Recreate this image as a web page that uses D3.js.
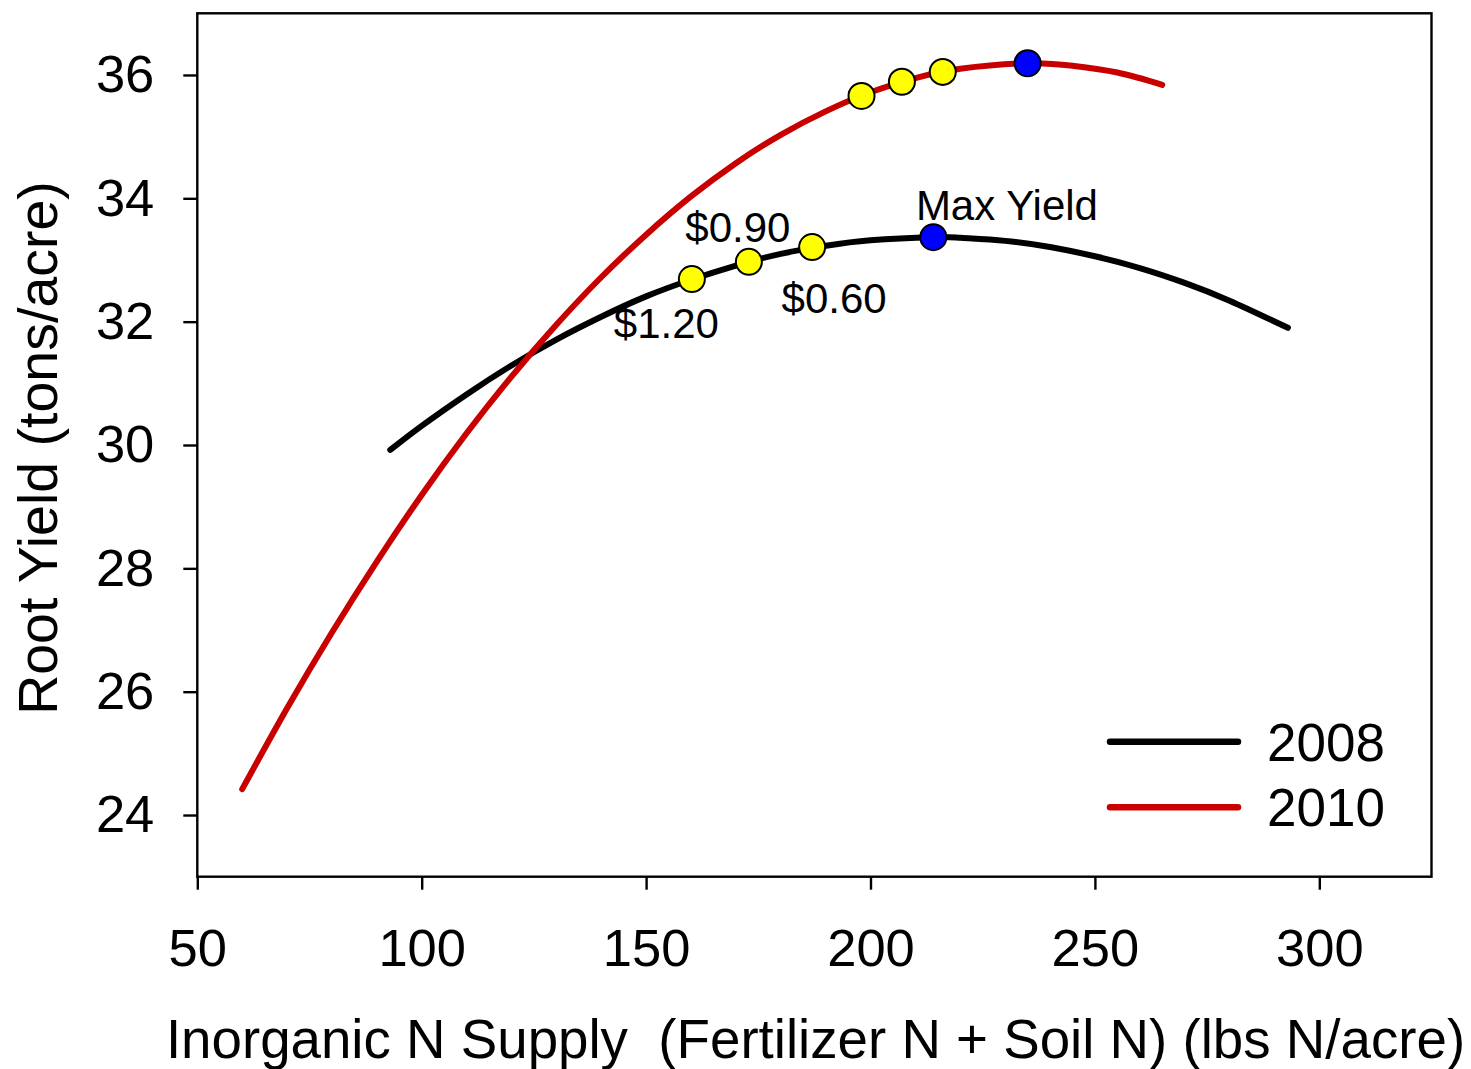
<!DOCTYPE html>
<html>
<head>
<meta charset="utf-8">
<script src="https://cdn.jsdelivr.net/npm/d3@7/dist/d3.min.js"></script>
<style>
  html, body { margin: 0; padding: 0; background: #ffffff; }
  svg { display: block; }
  text { font-family: "Liberation Sans", Arial, Helvetica, sans-serif; fill: #000; }
</style>
</head>
<body>
<svg id="chart" width="1471" height="1069"></svg>
<script>
// Fitted yield response curves (N supply in lbs N/acre, yield in tons/acre)
const years = ["2008", "2010"];
const nSupply2008 = [93, 100, 110, 120, 130, 140, 150, 160, 170, 180, 190, 200, 214, 220, 230, 240, 250, 260, 270, 280, 293];
const yield2008   = [29.92, 30.31, 30.82, 31.29, 31.71, 32.08, 32.41, 32.68, 32.91, 33.10, 33.23, 33.32, 33.37, 33.36, 33.31, 33.21, 33.06, 32.87, 32.63, 32.34, 31.90];
const nSupply2010 = [60, 70, 80, 90, 100, 110, 120, 130, 140, 150, 160, 170, 180, 190, 200, 210, 220, 235, 245, 255, 265];
const yield2010   = [24.42, 25.73, 26.96, 28.11, 29.19, 30.19, 31.11, 31.95, 32.72, 33.41, 34.03, 34.57, 35.03, 35.41, 35.72, 35.95, 36.10, 36.19, 36.15, 36.04, 35.84];

// Economic optimum rates (yellow) at N price ratios, and the maximum-yield rate (blue)
const optLabels   = ["$1.20", "$0.90", "$0.60"];
const optN2008    = [160.2, 172.9, 187.0];
const optY2008    = [32.69, 32.97, 33.21];
const optN2010    = [198.0, 207.0, 216.1];
const optY2010    = [35.66, 35.89, 36.05];
const maxLabel    = "Max Yield";
const maxN        = [214.0, 235.0];
const maxY        = [33.37, 36.19];

// Axis ticks and titles
const xTicks = [50, 100, 150, 200, 250, 300];
const yTicks = [24, 26, 28, 30, 32, 34, 36];
const xTitle = "Inorganic N Supply  (Fertilizer N + Soil N) (lbs N/acre)";
const yTitle = "Root Yield (tons/acre)";

const colors = { "2008": "#000000", "2010": "#c80000" };

const svg = d3.select("#chart");
const margin = { left: 197.3, top: 13.3, right: 1471 - 1431.5, bottom: 1069 - 876.7 };
const W = 1471 - margin.left - margin.right;
const H = 1069 - margin.top - margin.bottom;

const x = d3.scaleLinear().domain([50, 325]).range([0, W]);
const y = d3.scaleLinear().domain([23, 37]).range([H, 0]);

const g = svg.append("g").attr("transform", `translate(${margin.left},${margin.top})`);

// Axes (ticks outward on the left and bottom only)
const xAxis = g.append("g")
  .attr("transform", `translate(0,${H})`)
  .call(d3.axisBottom(x).tickValues(xTicks).tickSize(13).tickPadding(39).tickFormat(d3.format("d")));
const yAxis = g.append("g")
  .call(d3.axisLeft(y).tickValues(yTicks).tickSize(14).tickPadding(29).tickFormat(d3.format("d")));

[xAxis, yAxis].forEach(ax => {
  ax.select(".domain").remove();
  ax.selectAll(".tick line").attr("stroke", "#000").attr("stroke-width", 2.4);
  ax.selectAll(".tick text").attr("font-size", 52.5).attr("fill", "#000")
    .attr("font-family", "'Liberation Sans', Arial, sans-serif");
});

// Frame around the plot
g.append("rect")
  .attr("x", 0).attr("y", 0).attr("width", W).attr("height", H)
  .attr("fill", "none").attr("stroke", "#000").attr("stroke-width", 2.4);

// Curves
const line = d3.line()
  .x(d => x(d[0]))
  .y(d => y(d[1]))
  .curve(d3.curveNatural);

const series = [
  { year: "2008", pts: d3.zip(nSupply2008, yield2008) },
  { year: "2010", pts: d3.zip(nSupply2010, yield2010) }
];

g.selectAll("path.curve")
  .data(series)
  .join("path")
  .attr("class", "curve")
  .attr("d", d => line(d.pts))
  .attr("fill", "none")
  .attr("stroke", d => colors[d.year])
  .attr("stroke-width", 6)
  .attr("stroke-linecap", "round");

// Markers
const yellowPts = d3.zip(optN2008, optY2008).concat(d3.zip(optN2010, optY2010));
const bluePts = d3.zip(maxN, maxY);

g.selectAll("circle.opt")
  .data(yellowPts)
  .join("circle")
  .attr("class", "opt")
  .attr("cx", d => x(d[0]))
  .attr("cy", d => y(d[1]))
  .attr("r", 13)
  .attr("fill", "#ffff00")
  .attr("stroke", "#000")
  .attr("stroke-width", 2);

g.selectAll("circle.max")
  .data(bluePts)
  .join("circle")
  .attr("class", "max")
  .attr("cx", d => x(d[0]))
  .attr("cy", d => y(d[1]))
  .attr("r", 13)
  .attr("fill", "#0000ff")
  .attr("stroke", "#000")
  .attr("stroke-width", 2);

// Price-ratio labels beside the 2008 markers
const labelOffsets = [[-25.5, 59], [-11, -20], [22, 66]];
g.selectAll("text.opt-label")
  .data(d3.zip(optLabels, optN2008, optY2008, labelOffsets))
  .join("text")
  .attr("class", "opt-label")
  .attr("x", d => x(d[1]) + d[3][0])
  .attr("y", d => y(d[2]) + d[3][1])
  .attr("text-anchor", "middle")
  .attr("font-size", 42)
  .text(d => d[0]);

g.append("text")
  .attr("x", x(maxN[0]) + 73.6)
  .attr("y", y(maxY[0]) - 17.3)
  .attr("text-anchor", "middle")
  .attr("font-size", 42)
  .text(maxLabel);

// Legend
const legend = svg.append("g");
const legendRows = legend.selectAll("g")
  .data(years)
  .join("g")
  .attr("transform", (d, i) => `translate(1110,${741.7 + i * 65.6})`);
legendRows.append("line")
  .attr("x1", 0).attr("x2", 128).attr("y1", 0).attr("y2", 0)
  .attr("stroke", d => colors[d])
  .attr("stroke-width", 6.5)
  .attr("stroke-linecap", "round");
legendRows.append("text")
  .attr("x", 157).attr("y", 19)
  .attr("font-size", 53)
  .text(d => d);

// Axis titles
svg.append("text")
  .attr("x", 815.5)
  .attr("y", 1058)
  .attr("text-anchor", "middle")
  .attr("font-size", 54.7)
  .style("white-space", "pre")
  .attr("xml:space", "preserve")
  .text(xTitle);

svg.append("text")
  .attr("transform", `translate(57,${448}) rotate(-90)`)
  .attr("text-anchor", "middle")
  .attr("font-size", 55.5)
  .text(yTitle);
</script>
</body>
</html>
